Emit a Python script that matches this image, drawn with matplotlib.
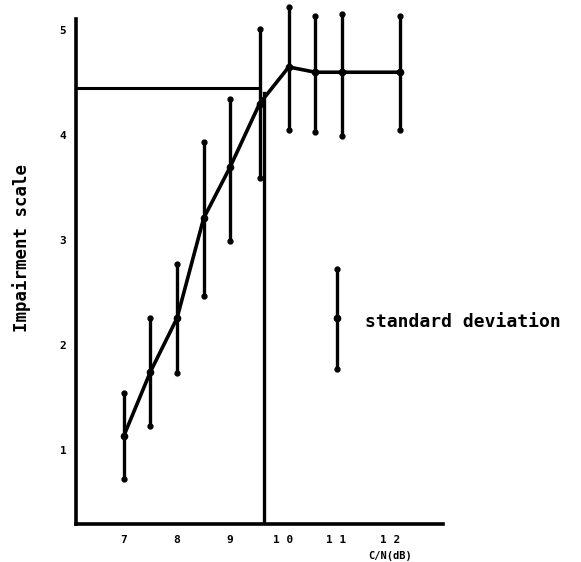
import matplotlib
matplotlib.use("Agg")
import matplotlib.pyplot as plt

# C/N (dB) at each measurement
cn_db = [7.0, 7.5, 8.0, 8.5, 9.0, 9.55, 10.1, 10.6, 11.1, 12.2]
# mean impairment grade
impairment = [1.14, 1.75, 2.26, 3.21, 3.70, 4.30, 4.65, 4.60, 4.60, 4.60]
# ends of the standard-deviation bars
sd_upper = [1.55, 2.26, 2.77, 3.94, 4.35, 5.01, 5.22, 5.14, 5.15, 5.14]
sd_lower = [0.73, 1.23, 1.74, 2.47, 2.99, 3.59, 4.05, 4.03, 3.99, 4.05]

x_ticks = [7, 8, 9, 10, 11, 12]
x_tick_labels = ["7", "8", "9", "1 0", "1 1", "1 2"]
y_ticks = [1, 2, 3, 4, 5]
y_tick_labels = ["1", "2", "3", "4", "5"]

# threshold read-off: grade 4.45 reached at about 9.6 dB
threshold_grade = 4.45
threshold_cn = 9.63

mono = "DejaVu Sans Mono"
lw = 2.6

fig = plt.figure(figsize=(5.81, 5.62), dpi=100)
ax = fig.add_axes([76 / 581, 38 / 562, 367 / 581, 519 / 562])
x0, x1 = 6.10, 13.0
y0, y1 = 0.30, 5.24
ax.set_xlim(x0, x1)
ax.set_ylim(y0, y1)

err = [[m - lo for m, lo in zip(impairment, sd_lower)],
       [hi - m for m, hi in zip(impairment, sd_upper)]]
ax.errorbar(cn_db, impairment, yerr=err, fmt="none", ecolor="black",
            elinewidth=2.4, capsize=0, clip_on=False)
ax.plot(cn_db, sd_upper, "o", color="black", ms=3.5, clip_on=False)
ax.plot(cn_db, sd_lower, "o", color="black", ms=3.5, clip_on=False)
ax.plot(cn_db, impairment, "-o", color="black", lw=lw, ms=4.5, clip_on=False)

# threshold lines
ax.plot([x0, 9.5], [threshold_grade, threshold_grade], color="black", lw=2.2)
ax.plot([threshold_cn, threshold_cn], [y0, 4.40], color="black", lw=2.4)

# legend glyph
ax.plot([11.0, 11.0], [1.78, 2.73], color="black", lw=2.4)
ax.plot([11.0, 11.0], [1.78, 2.73], "o", color="black", ms=3.5)
ax.plot([11.0], [2.26], "o", color="black", ms=4.5)
ax.text(11.53, 2.22, "standard deviation", family=mono, fontweight="bold",
        fontsize=13, va="center", ha="left", clip_on=False)

for side in ("top", "right"):
    ax.spines[side].set_visible(False)
ax.spines["left"].set_linewidth(lw)
ax.spines["bottom"].set_linewidth(lw)
ax.spines["left"].set_bounds(y0, 5.11)

ax.set_xticks(x_ticks)
ax.set_xticklabels(x_tick_labels, family=mono, fontweight="bold", fontsize=8)
ax.set_yticks(y_ticks)
ax.set_yticklabels(y_tick_labels, family=mono, fontweight="bold", fontsize=8)
ax.tick_params(axis="both", length=0)
ax.tick_params(axis="x", pad=8)
ax.tick_params(axis="y", pad=7)

ax.text(12.0, y0 - 0.26, "C/N(dB)", family=mono, fontweight="bold",
        fontsize=7.5, ha="center", va="top", clip_on=False)
fig.text(22 / 581, 1 - 248 / 562, "Impairment scale", family=mono,
         fontweight="bold", fontsize=12.5, rotation=90, ha="center",
         va="center")

fig.savefig("out.png", dpi=100)
